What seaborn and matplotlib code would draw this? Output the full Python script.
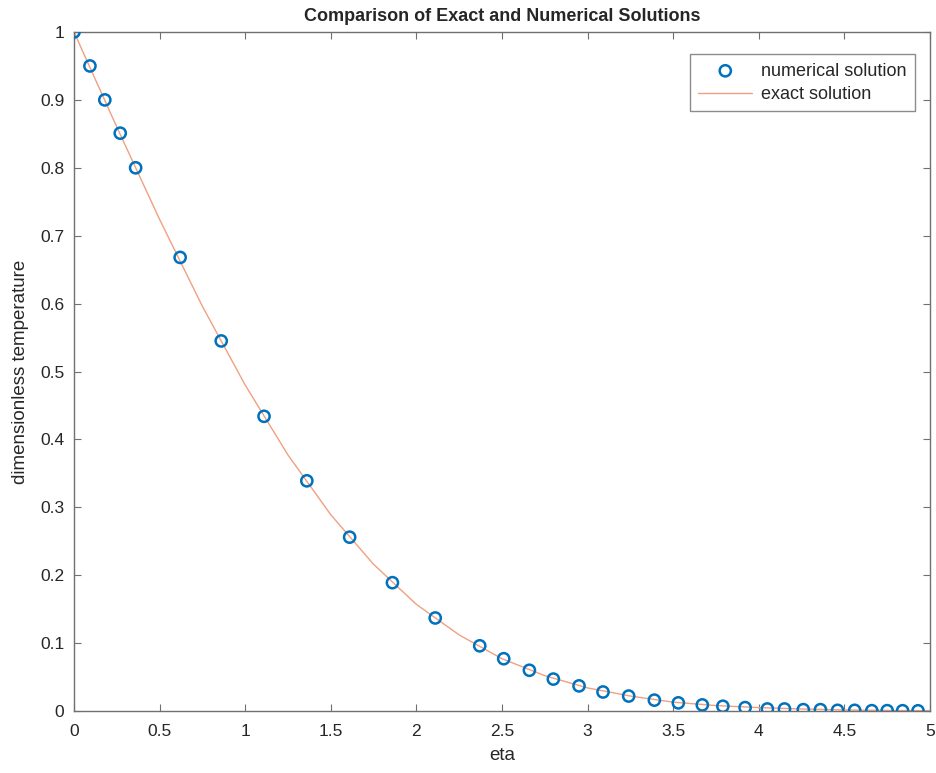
import matplotlib
matplotlib.use("Agg")
import matplotlib.pyplot as plt
import seaborn as sns
import pandas as pd

# numerical solution points
eta_num = [0.0, 0.093, 0.18, 0.27, 0.36, 0.62, 0.86, 1.11, 1.36, 1.61, 1.86, 2.11,
           2.37, 2.51, 2.66, 2.80, 2.95, 3.09, 3.24, 3.39, 3.53, 3.67, 3.79, 3.92,
           4.05, 4.15, 4.26, 4.36, 4.46, 4.56, 4.66, 4.75, 4.84, 4.93]
temp_num = [1.0, 0.95, 0.90, 0.851, 0.80, 0.668, 0.545, 0.434, 0.339, 0.256, 0.189, 0.137,
            0.096, 0.077, 0.060, 0.047, 0.037, 0.028, 0.022, 0.016, 0.012, 0.009, 0.007, 0.005,
            0.003, 0.003, 0.002, 0.002, 0.001, 0.001, 0.0005, 0.0005, 0.0004, 0.0003]

# exact solution curve
eta_exact = [0.0, 0.25, 0.5, 0.75, 1.0, 1.25, 1.5, 1.75, 2.0, 2.25, 2.5, 2.75,
             3.0, 3.25, 3.5, 3.75, 4.0, 4.25, 4.5, 4.75, 5.0]
temp_exact = [1.0, 0.860, 0.724, 0.596, 0.480, 0.377, 0.289, 0.216, 0.157, 0.112, 0.077, 0.052,
              0.034, 0.022, 0.013, 0.008, 0.005, 0.003, 0.0015, 0.0008, 0.0004]

x_ticks = [0, 0.5, 1, 1.5, 2, 2.5, 3, 3.5, 4, 4.5, 5]
x_ticklabels = ["0", "0.5", "1", "1.5", "2", "2.5", "3", "3.5", "4", "4.5", "5"]
y_ticks = [0, 0.1, 0.2, 0.3, 0.4, 0.5, 0.6, 0.7, 0.8, 0.9, 1]
y_ticklabels = ["0", "0.1", "0.2", "0.3", "0.4", "0.5", "0.6", "0.7", "0.8", "0.9", "1"]

sns.set_style("white")
plt.rcParams["font.family"] = ["Liberation Sans", "DejaVu Sans"]

df_num = pd.DataFrame({"eta": eta_num, "temp": temp_num})
df_exact = pd.DataFrame({"eta": eta_exact, "temp": temp_exact})

fig = plt.figure(figsize=(9.37, 7.73), dpi=100)
ax = fig.add_axes([74 / 937, 1 - 711 / 773, (930 - 74) / 937, (711 - 32) / 773])

sns.scatterplot(data=df_num, x="eta", y="temp", ax=ax, marker="o", s=65,
                facecolors="none", edgecolor="#0072BD", linewidth=1.8,
                label="numerical solution", zorder=3)
sns.lineplot(data=df_exact, x="eta", y="temp", ax=ax, color="#F0A080",
             linewidth=1.0, label="exact solution", zorder=2)

ax.set_xlim(0, 5)
ax.set_ylim(0, 1)
ax.set_xticks(x_ticks)
ax.set_xticklabels(x_ticklabels)
ax.set_yticks(y_ticks)
ax.set_yticklabels(y_ticklabels)
ax.tick_params(direction="in", length=5, width=0.8, color="#707070",
               labelsize=12.5, labelcolor="#262626", top=True, right=True,
               bottom=True, left=True)
ax.tick_params(axis="x", pad=9)
ax.tick_params(axis="y", pad=7)
for sp in ax.spines.values():
    sp.set_visible(True)
    sp.set_color("#707070")
    sp.set_linewidth(1.0)

ax.set_xlabel("eta", fontsize=13.5, color="#262626", labelpad=6)
ax.set_ylabel("dimensionless temperature", fontsize=13.5, color="#262626", labelpad=8)
ax.set_title("Comparison of Exact and Numerical Solutions", fontsize=13,
             fontweight="bold", color="#262626", pad=8)

leg = ax.legend(loc="upper right", bbox_to_anchor=(0.9825, 0.967), borderaxespad=0,
                fontsize=13, frameon=True, fancybox=False, edgecolor="#707070",
                handlelength=3.0, handletextpad=0.5, borderpad=0.45, labelspacing=0.35)
leg.get_frame().set_linewidth(1.0)

fig.savefig("out.png", dpi=100)
